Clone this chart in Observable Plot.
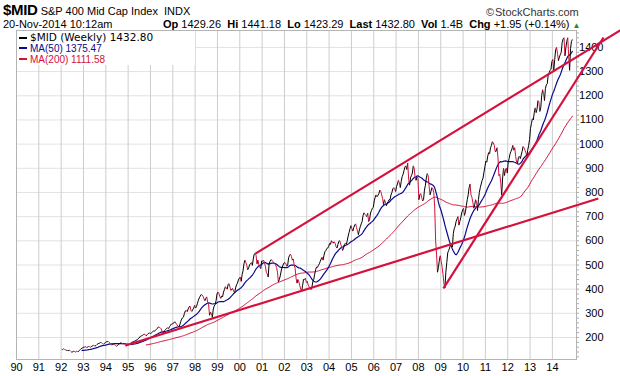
<!DOCTYPE html>
<html><head><meta charset="utf-8">
<script src="https://cdn.jsdelivr.net/npm/d3@7"></script>
<script src="https://cdn.jsdelivr.net/npm/@observablehq/plot@0.6"></script>
<style>
body{margin:0;background:#fff;font-family:"Liberation Sans",Arial,sans-serif;}
#wrap{position:relative;width:620px;height:376px;overflow:hidden;}
#chart{position:absolute;left:0;top:0;}
.h{position:absolute;white-space:nowrap;color:#000;font-size:11px;line-height:12px;}
#legend{position:absolute;left:17px;top:31px;width:178px;height:34px;background:#fff;}
.lg{position:absolute;left:13px;white-space:nowrap;line-height:11px;}
.mk{position:absolute;left:2px;width:8px;height:2px;}
</style></head><body>
<div id="wrap">
<div id="chart"></div>
<div class="h" style="left:3px;top:4px;"><b style="font-size:15px;letter-spacing:-0.3px;">$MID</b> S&amp;P 400 Mid Cap Index&nbsp; INDX</div>
<div class="h" style="left:486px;top:6px;color:#333;">©&#8202;StockCharts.com</div>
<div class="h" style="left:3px;top:18px;">20-Nov-2014 10:12am</div>
<div class="h" style="left:163px;top:18px;"><b>Op</b> 1429.26 &nbsp;<b>Hi</b> 1441.18 &nbsp;<b>Lo</b> 1423.29 &nbsp;<b>Last</b> 1432.80 &nbsp;<b>Vol</b> 1.4B &nbsp;<b>Chg</b> +1.95 (+0.14%) <span style="color:#2a8a2a;font-size:8px;">▲</span></div>
<div id="legend">
  <div class="mk" style="top:6px;background:#000;"></div>
  <div class="lg" style="top:1px;font-family:'DejaVu Sans';font-size:10.5px;">$MID (Weekly) 1432.80</div>
  <div class="mk" style="top:16px;background:#0a0a8c;"></div>
  <div class="lg" style="top:12px;font-size:10px;color:#0a0a8c;">MA(50) 1375.47</div>
  <div class="mk" style="top:27px;background:#d4103c;"></div>
  <div class="lg" style="top:23px;font-size:10px;color:#d4103c;">MA(200) 1111.58</div>
</div>
</div>
<script>
// ---- data: half-month readings of the weekly close ----
const startYear = 1992;
const p1992 = [152,150,153,151,149,147,147,145,148,146,142,139,141,143,142,140,143,142,141,146,150,154,156,158];
const p1993 = [161,160,162,158,161,163,162,160,163,165,167,166,165,167,171,174,176,177,180,178,175,172,176,179];
const p1994 = [182,183,184,180,177,172,169,171,172,170,167,164,167,170,174,177,178,175,173,176,171,166,165,169];
const p1995 = [170,172,176,179,181,183,184,186,188,190,194,197,202,206,207,209,212,214,210,207,212,216,219,218];
const p1996 = [216,221,225,227,227,230,234,238,244,242,240,236,226,218,224,230,234,238,240,237,245,250,256,255];
const p1997 = [260,262,265,257,254,246,244,252,266,276,282,285,300,310,312,307,318,326,330,312,308,316,322,333];
const p1998 = [322,328,342,354,364,371,378,376,370,360,352,362,368,345,335,292,305,300,283,318,330,336,352,380];
const p1999 = [388,382,370,362,372,368,388,398,410,405,400,420,422,408,395,400,402,390,385,405,418,425,438,445];
const p2000 = [450,432,460,476,505,520,510,500,480,488,500,506,510,498,525,545,548,540,505,520,500,492,485,517];
const p2001 = [515,520,510,495,470,463,450,505,515,522,520,515,510,505,500,490,470,430,440,455,475,490,500,508];
const p2002 = [510,505,495,500,530,540,545,535,520,525,500,485,445,425,440,430,415,400,390,415,440,440,445,428];
const p2003 = [432,418,410,405,398,408,430,440,462,480,492,490,498,505,515,525,532,520,540,555,560,568,570,576];
const p2004 = [590,585,600,597,590,596,590,575,570,585,598,600,585,575,560,570,585,590,585,600,620,635,650,663];
const p2005 = [650,640,655,665,670,655,640,625,645,658,670,680,705,716,710,705,700,715,680,688,715,725,735,738];
const p2006 = [765,780,790,782,788,795,810,805,790,775,750,770,760,745,755,762,770,770,790,800,815,820,812,804];
const p2007 = [825,835,850,840,820,845,865,875,890,905,910,895,922,855,830,860,870,880,910,900,860,850,865,858];
const p2008 = [770,790,795,780,765,770,810,830,860,878,870,825,790,805,820,815,800,740,600,545,470,490,520,538];
const p2009 = [515,490,460,420,405,470,510,550,560,570,585,580,575,630,650,660,680,690,700,665,680,695,715,727];
const p2010 = [735,705,720,745,770,790,820,835,790,780,760,735,750,770,760,725,770,800,820,835,850,860,885,907];
const p2011 = [930,925,950,965,960,985,995,1010,1005,995,970,970,985,945,870,875,840,790,860,900,870,895,900,880];
const p2012 = [925,940,960,970,980,995,975,985,950,925,920,945,950,940,955,970,990,985,975,965,950,975,995,1020];
const p2013 = [1065,1085,1105,1100,1130,1150,1130,1145,1180,1175,1135,1150,1200,1225,1210,1180,1230,1245,1250,1285,1295,1305,1310,1342];
const p2014 = [1350,1305,1350,1390,1400,1375,1345,1360,1370,1380,1420,1435,1440,1365,1400,1425,1440,1365,1305,1395,1425,1433];

// trend lines: [startYear, startValue, endYear, endValue]
const trendUpper = [2000.70, 547, 2017.2, 1480];
const trendSteep = [2009.12, 403, 2016.29, 1441];
const trendLower = [1994.88, 167, 2016.06, 775];

const xTicks = [1990,1991,1992,1993,1994,1995,1996,1997,1998,1999,2000,2001,2002,2003,2004,2005,2006,2007,2008,2009,2010,2011,2012,2013,2014];
const xLabels = ["90","91","92","93","94","95","96","97","98","99","00","01","02","03","04","05","06","07","08","09","10","11","12","13","14"];
const yTicks = [200,300,400,500,600,700,800,900,1000,1100,1200,1300,1400];

// ---- build table ----
const years = [p1992,p1993,p1994,p1995,p1996,p1997,p1998,p1999,p2000,p2001,p2002,p2003,p2004,p2005,p2006,p2007,p2008,p2009,p2010,p2011,p2012,p2013,p2014];
const price = [];
years.forEach((arr, yi) => arr.forEach((v, k) => price.push({t: startYear + yi + (k + 0.5) / 24, v})));
const segs = [];
for (let i = 1; i < price.length; i++) {
  segs.push({x1: price[i-1].t, y1: price[i-1].v, x2: price[i].t, y2: price[i].v, up: price[i].v >= price[i-1].v});
}
const trends = [trendUpper, trendSteep, trendLower].map(([a,b,c,d]) => ({x1:a,y1:b,x2:c,y2:d}));

const RED = "#d4103c", BLUE = "#0a0a8c";
const chart = Plot.plot({
  width: 620, height: 376,
  marginTop: 30, marginBottom: 17, marginLeft: 16, marginRight: 44,
  x: {domain: [1990, 2015.08], axis: null},
  y: {domain: [109, 1470], axis: null},
  style: {fontFamily: "'Liberation Sans', Arial, sans-serif", fontSize: "11px", background: "#fff"},
  marks: [
    Plot.ruleY(yTicks, {stroke: "#e2e2e2"}),
    Plot.ruleX(xTicks.slice(1), {stroke: "#cdcdcd"}),
    Plot.frame({stroke: "#b4b4b4"}),
    Plot.axisY(d3.range(120, 1470, 20), {anchor: "right", tickSize: 2, tickFormat: () => "", stroke: "#aaa"}),
    Plot.axisY(yTicks, {anchor: "right", tickSize: 0, tickPadding: 27, textAnchor: "end", tickFormat: d => String(d), fill: "#000", fontSize: 11}),
    Plot.axisX(xTicks, {tickSize: 0, tickPadding: 4, tickFormat: (d) => xLabels[xTicks.indexOf(d)], fill: "#000", fontSize: 11}),
    Plot.lineY(price, Plot.windowY({k: 92, anchor: "end", strict: true}, {x: "t", y: "v", stroke: RED, strokeWidth: 1})),
    Plot.lineY(price, Plot.windowY({k: 23, anchor: "end", strict: true}, {x: "t", y: "v", stroke: BLUE, strokeWidth: 1.2})),
    Plot.link(segs, {x1: "x1", y1: "y1", x2: "x2", y2: "y2", stroke: d => d.up ? "#000" : RED, strokeWidth: 1}),
    Plot.link(trends, {x1: "x1", y1: "y1", x2: "x2", y2: "y2", stroke: RED, strokeWidth: 2.2, clip: false})
  ]
});
document.getElementById("chart").appendChild(chart);
</script>
</body></html>
